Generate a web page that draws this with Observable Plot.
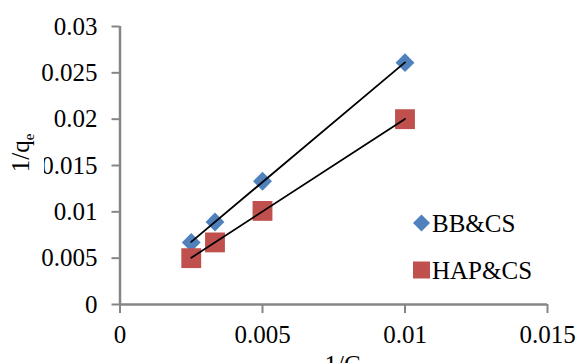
<!DOCTYPE html>
<html>
<head>
<meta charset="utf-8">
<script src="https://cdn.jsdelivr.net/npm/d3@7"></script>
<script src="https://cdn.jsdelivr.net/npm/@observablehq/plot@0.6"></script>
<style>
  html, body { margin: 0; padding: 0; background: white; }
  #chart { width: 576px; height: 363px; overflow: hidden; }
</style>
</head>
<body>
<div id="chart"></div>
<script>
// ---- data ----
const bbX = [0.0025, 0.003333, 0.005, 0.01];
const bbY = [0.0067, 0.0089, 0.0133, 0.0261];
const hapX = [0.0025, 0.003333, 0.005, 0.01];
const hapY = [0.0050, 0.0067, 0.0101, 0.0200];
const seriesNames = ["BB&CS", "HAP&CS"];
const seriesColors = ["#4F81BD", "#C0504D"];
const xTicks = [0, 0.005, 0.01, 0.015];
const yTicks = [0, 0.005, 0.01, 0.015, 0.02, 0.025, 0.03];
const xTitle = ["1/C", "e"];
const yTitle = ["1/q", "e"];

const FONT = "'Liberation Serif', 'Times New Roman', serif";
const AXIS = "#868686";

const chart = Plot.plot({
  width: 576,
  height: 363,
  marginLeft: 119.5,
  marginRight: 29,
  marginTop: 26,
  marginBottom: 59,
  style: { fontFamily: FONT, fontSize: "25px", background: "white", color: "black" },
  x: { domain: [0, 0.015] },
  y: { domain: [0, 0.03] },
  marks: [
    Plot.axisX(xTicks, { tickSize: 9, tickPadding: 12, stroke: AXIS, strokeWidth: 2, fill: "black", fontSize: 25, label: null, tickFormat: d => String(d) }),
    Plot.axisY(yTicks, { tickSize: 8, tickPadding: 14.5, stroke: AXIS, strokeWidth: 2, fill: "black", fontSize: 25, label: null, tickFormat: d => String(d) }),
    Plot.ruleY([0], { stroke: AXIS, strokeWidth: 2.5 }),
    Plot.ruleX([0], { stroke: AXIS, strokeWidth: 2.5 }),
    Plot.dot(bbX, { x: bbX, y: bbY, symbol: "diamond2", r: 8.5, fill: seriesColors[0] }),
    Plot.dot(hapX, { x: hapX, y: hapY, symbol: "square", r: 11.2, fill: seriesColors[1] }),
    Plot.linearRegressionY(bbX, { x: bbX, y: bbY, ci: 0, stroke: "black", strokeWidth: 1.8 }),
    Plot.linearRegressionY(hapX, { x: hapX, y: hapY, ci: 0, stroke: "black", strokeWidth: 1.8 })
  ]
});

document.getElementById("chart").appendChild(chart);

const svg = d3.select(chart);

// white box of the y title (clips part of a tick label as in the reference)
svg.append("rect").attr("x", 0).attr("y", 130).attr("width", 44).attr("height", 48).attr("fill", "white");

// y title
const yt = svg.append("text")
  .attr("transform", "translate(29,153) rotate(-90)")
  .attr("text-anchor", "middle")
  .attr("font-family", FONT).attr("font-size", 25).attr("fill", "black");
yt.append("tspan").text(yTitle[0]);
yt.append("tspan").attr("font-size", 15).attr("dy", 5).text(yTitle[1]);

// x title
const xt = svg.append("text")
  .attr("x", 346).attr("y", 373)
  .attr("text-anchor", "middle")
  .attr("font-family", FONT).attr("font-size", 25).attr("fill", "black");
xt.append("tspan").text(xTitle[0]);
xt.append("tspan").attr("font-size", 15).attr("dy", 5).text(xTitle[1]);

// legend
const legend = svg.append("g").attr("font-family", FONT).attr("font-size", 25).attr("fill", "black").attr("text-anchor", "start");
const legendSymbols = [d3.symbolDiamond2, d3.symbolSquare];
const legendSizes = [184, 289];
const legendY = [223, 270];
seriesNames.forEach((name, i) => {
  legend.append("path")
    .attr("d", d3.symbol(legendSymbols[i], legendSizes[i])())
    .attr("transform", `translate(421.5,${legendY[i]})`)
    .attr("fill", seriesColors[i]);
  legend.append("text")
    .attr("x", 432).attr("y", legendY[i] + 8.5)
    .attr("text-anchor", "start")
    .text(name);
});
</script>
</body>
</html>
